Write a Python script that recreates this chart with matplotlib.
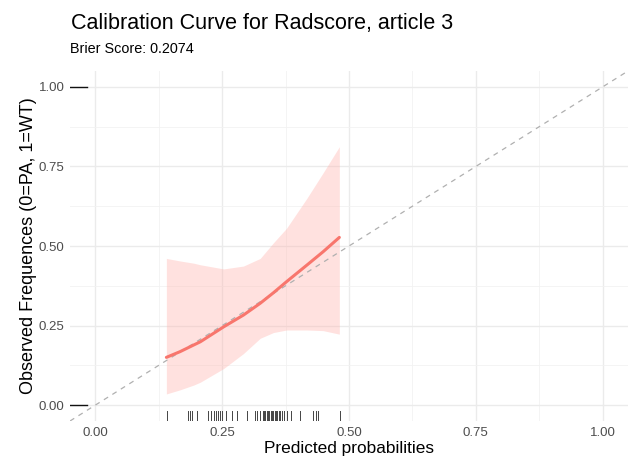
import numpy as np
import matplotlib
matplotlib.use("Agg")
import matplotlib.pyplot as plt

plt.rcParams['font.family'] = ['Liberation Sans', 'DejaVu Sans']

# calibration curve
pred = [0.140, 0.167, 0.194, 0.207, 0.253, 0.292, 0.325, 0.351, 0.377, 0.417, 0.449, 0.481]
obs = [0.150, 0.168, 0.189, 0.199, 0.246, 0.283, 0.320, 0.353, 0.388, 0.440, 0.482, 0.527]
ci_low = [0.035, 0.048, 0.063, 0.072, 0.115, 0.162, 0.210, 0.228, 0.236, 0.236, 0.234, 0.223]
ci_high = [0.461, 0.453, 0.446, 0.441, 0.428, 0.437, 0.461, 0.510, 0.556, 0.650, 0.730, 0.812]

# predicted probabilities of the cases (rug)
rug_x = [0.141, 0.182, 0.186, 0.190, 0.200, 0.223, 0.228, 0.234, 0.238, 0.241,
         0.245, 0.249, 0.258, 0.269, 0.279, 0.299, 0.315, 0.319, 0.325, 0.330,
         0.333, 0.335, 0.338, 0.341, 0.343, 0.346, 0.348, 0.351, 0.354, 0.356,
         0.359, 0.362, 0.364, 0.367, 0.371, 0.377, 0.386, 0.404, 0.430, 0.434,
         0.438, 0.482]
rug_y = [0, 1]
ticks = [0, 0.25, 0.5, 0.75, 1.0]

fig = plt.figure(figsize=(6.38, 4.65), dpi=100)
ax = fig.add_axes([0.1097, 0.0946, 0.8746, 0.7527])

ax.fill_between(pred, ci_low, ci_high, color='#FFB6B0', alpha=0.4, lw=0, zorder=2)
ax.plot([-0.05, 1.05], [-0.05, 1.05], ls=(0, (4, 4)), color='#B0B0B0', lw=0.9, zorder=3)
ax.plot(pred, obs, color='#F8766D', lw=2.2, zorder=4, solid_capstyle='round',
        solid_joinstyle='round')

# rugs
trans_x = ax.get_xaxis_transform()
for v in rug_x:
    ax.plot([v, v], [0, 0.03], color='#444444', lw=0.7, transform=trans_x, zorder=5)
trans_y = ax.get_yaxis_transform()
for v in rug_y:
    ax.plot([0, 0.03], [v, v], color='#111111', lw=1.0, transform=trans_y, zorder=5)

ax.set_xlim(-0.05, 1.05)
ax.set_ylim(-0.05, 1.05)
ax.set_xticks(ticks)
ax.set_yticks(ticks)
ax.set_xticklabels(['%.2f' % t for t in ticks])
ax.set_yticklabels(['%.2f' % t for t in ticks])
ax.set_xticks([0.125, 0.375, 0.625, 0.875], minor=True)
ax.set_yticks([0.125, 0.375, 0.625, 0.875], minor=True)
ax.grid(which='major', color='#EBEBEB', lw=1.0, zorder=0)
ax.grid(which='minor', color='#F2F2F2', lw=0.6, zorder=0)
ax.set_axisbelow(True)
ax.tick_params(which='both', length=0, labelsize=9.5, labelcolor='#4D4D4D', pad=4)
for s in ax.spines.values():
    s.set_visible(False)

ax.set_xlabel('Predicted probabilities', fontsize=12.4, labelpad=2)
ax.set_ylabel('Observed Frequences (0=PA, 1=WT)', fontsize=13, labelpad=1)

fig.text(0.112, 0.950, 'Calibration Curve for Radscore, article 3', fontsize=15.5, va='center', ha='left')
fig.text(0.110, 0.895, 'Brier Score: 0.2074', fontsize=10.4, va='center', ha='left')

fig.savefig('out.png', dpi=100)
